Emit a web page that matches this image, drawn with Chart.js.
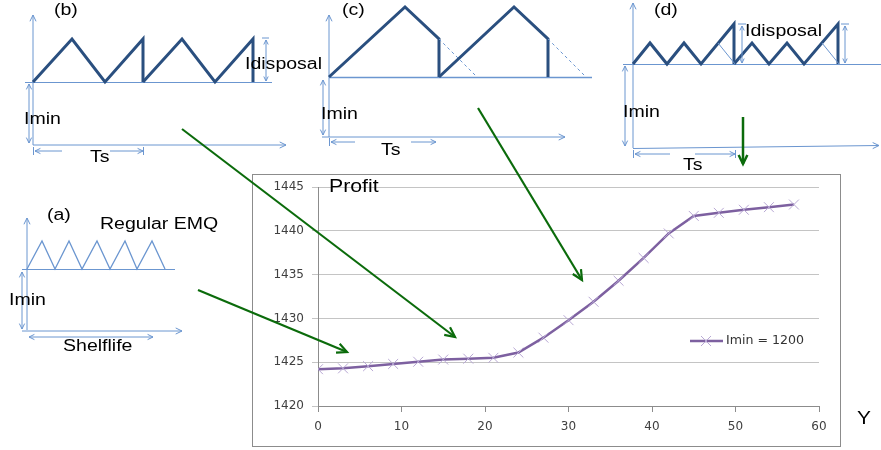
<!DOCTYPE html>
<html>
<head>
<meta charset="utf-8">
<script src="https://cdn.jsdelivr.net/npm/chart.js@4/dist/chart.umd.min.js"></script>
<style>
  body { margin: 0; background: #fff; }
  canvas { display: block; }
</style>
</head>
<body>
<canvas id="profit-chart" width="881" height="450"></canvas>
<script>
// chart data
const years = [0, 3, 6, 9, 12, 15, 18, 21, 24, 27, 30, 33, 36, 39, 42, 45, 48, 51, 54, 57];
const profit = [1424.2, 1424.3, 1424.55, 1424.8, 1425.05, 1425.3, 1425.4, 1425.5, 1426.1, 1427.8,
  1429.8, 1431.9, 1434.3, 1436.9, 1439.7, 1441.7, 1442.05, 1442.4, 1442.7, 1443.0];
const seriesLabel = "Imin = 1200";
const yRange = [1420, 1445];
const xRange = [0, 60];

const LINE = "#7d60a0";
const MARK = "#b8a8d4";
const AX = "#6b96d0";
const SAW = "#2a4f7f";
const GREEN = "#0b6b0b";
const STRETCH = 1.22;

function seg(ctx, pts, color, w, dash) {
  ctx.save();
  ctx.strokeStyle = color;
  ctx.lineWidth = w;
  ctx.lineJoin = "miter";
  ctx.setLineDash(dash || []);
  ctx.beginPath();
  ctx.moveTo(pts[0][0], pts[0][1]);
  for (let i = 1; i < pts.length; i++) ctx.lineTo(pts[i][0], pts[i][1]);
  ctx.stroke();
  ctx.restore();
}

// open V arrow head, tip at (x,y), pointing toward angle ang
function vee(ctx, x, y, ang, len, color, w) {
  const a1 = ang + Math.PI - 0.45, a2 = ang + Math.PI + 0.45;
  seg(ctx, [[x + len * Math.cos(a1), y + len * Math.sin(a1)], [x, y],
    [x + len * Math.cos(a2), y + len * Math.sin(a2)]], color, w);
}

function arrow(ctx, x1, y1, x2, y2, color, w, len, both) {
  seg(ctx, [[x1, y1], [x2, y2]], color, w);
  const ang = Math.atan2(y2 - y1, x2 - x1);
  vee(ctx, x2, y2, ang, len, color, w);
  if (both) vee(ctx, x1, y1, ang + Math.PI, len, color, w);
}

function txt(ctx, s, x, y, size, font, sx) {
  ctx.save();
  ctx.fillStyle = "#000";
  ctx.font = size + "px " + (font || "'Liberation Sans', Arial");
  ctx.textBaseline = "middle";
  ctx.textAlign = "left";
  ctx.translate(x, y);
  ctx.scale(sx || STRETCH, 1);
  ctx.fillText(s, 0, 0);
  ctx.restore();
}

function panelB(ctx) {
  txt(ctx, "(b)", 54, 11, 16);
  arrow(ctx, 33, 145, 33, 15, AX, 1, 7);
  seg(ctx, [[25, 82.5], [272, 82.5]], AX, 1);
  arrow(ctx, 33, 145, 286, 145, AX, 1, 7);
  arrow(ctx, 29, 84, 29, 143, AX, 1, 6, true);
  txt(ctx, "Imin", 24, 120, 16);
  seg(ctx, [[33, 82], [72, 39], [105, 82], [143, 39], [143, 82]], SAW, 3);
  seg(ctx, [[143, 82], [182, 39], [215, 82], [253, 39], [253, 82]], SAW, 3);
  seg(ctx, [[262, 38], [269, 38]], AX, 1);
  arrow(ctx, 266, 40, 266, 81, AX, 1, 5, true);
  txt(ctx, "Idisposal", 245, 65, 16);
  arrow(ctx, 62, 151, 35, 151, AX, 1, 6);
  arrow(ctx, 110, 151, 143, 151, AX, 1, 6);
  seg(ctx, [[33.5, 147], [33.5, 155]], AX, 1);
  seg(ctx, [[143.5, 147], [143.5, 155]], AX, 1);
  txt(ctx, "Ts", 90, 158, 16);
}

function panelC(ctx) {
  txt(ctx, "(c)", 342, 11, 16);
  arrow(ctx, 329, 137, 329, 15, AX, 1, 7);
  seg(ctx, [[329, 77.5], [592, 77.5]], AX, 1.5);
  arrow(ctx, 322, 137, 565, 137, AX, 1, 7);
  arrow(ctx, 323, 80, 323, 135, AX, 1, 6, true);
  txt(ctx, "Imin", 321, 115, 16);
  seg(ctx, [[329, 77], [405, 7], [439, 39], [439, 77]], SAW, 3);
  seg(ctx, [[439, 77], [514, 7], [548, 39], [548, 77]], SAW, 3);
  seg(ctx, [[439, 39], [477, 77]], AX, 1, [3, 3]);
  seg(ctx, [[548, 39], [586, 77]], AX, 1, [3, 3]);
  arrow(ctx, 355, 142, 331, 142, AX, 1, 6);
  arrow(ctx, 411, 142, 436, 142, AX, 1, 6);
  seg(ctx, [[329.5, 138], [329.5, 146]], AX, 1);
  txt(ctx, "Ts", 381, 151, 16);
}

function panelD(ctx) {
  txt(ctx, "(d)", 654, 11, 16);
  arrow(ctx, 633, 148, 633, 3, AX, 1, 7);
  seg(ctx, [[623, 64.5], [881, 64.5]], AX, 1);
  arrow(ctx, 633, 148.5, 879, 145.5, AX, 1, 7);
  arrow(ctx, 625, 66, 625, 146, AX, 1, 6, true);
  txt(ctx, "Imin", 623, 113, 16);
  seg(ctx, [[633, 64], [650, 43], [667, 64], [684, 43], [701, 64], [734, 24], [734, 64]], SAW, 3);
  seg(ctx, [[734, 64], [752, 43], [769, 64], [787, 43], [804, 64], [838, 24], [838, 64]], SAW, 3);
  seg(ctx, [[718, 43], [735, 64]], AX, 1);
  seg(ctx, [[822, 43], [839, 64]], AX, 1);
  seg(ctx, [[738, 24], [746, 24]], AX, 1);
  arrow(ctx, 742, 26, 742, 63, AX, 1, 5, true);
  seg(ctx, [[841, 24], [849, 24]], AX, 1);
  arrow(ctx, 845, 26, 845, 63, AX, 1, 5, true);
  txt(ctx, "Idisposal", 745, 32, 16);
  arrow(ctx, 670, 154, 635, 154, AX, 1, 6);
  arrow(ctx, 695, 154, 735, 154, AX, 1, 6);
  seg(ctx, [[633.5, 150], [633.5, 158]], AX, 1);
  seg(ctx, [[735.5, 150], [735.5, 158]], AX, 1);
  txt(ctx, "Ts", 683, 166, 16);
}

function panelA(ctx) {
  txt(ctx, "(a)", 47, 216, 16);
  arrow(ctx, 27, 330, 27, 218, AX, 1, 7);
  seg(ctx, [[22, 269.5], [175, 269.5]], AX, 1);
  arrow(ctx, 22, 331, 182, 331, AX, 1, 7);
  arrow(ctx, 22, 272, 22, 329, AX, 1, 6, true);
  txt(ctx, "Imin", 9, 301, 16);
  seg(ctx, [[27, 269], [42, 241], [55, 269], [69, 241], [82, 269], [97, 241], [110, 269],
    [125, 241], [137, 269], [152, 241], [165, 269]], AX, 1.3);
  txt(ctx, "Regular EMQ", 100, 225, 16);
  arrow(ctx, 29, 337, 153, 337, AX, 1, 6, true);
  txt(ctx, "Shelflife", 63, 347, 16);
}

const decor = {
  id: "decor",
  beforeDraw(chart) {
    const ctx = chart.ctx;
    ctx.save();
    ctx.fillStyle = "#fff";
    ctx.fillRect(0, 0, chart.width, chart.height);
    ctx.strokeStyle = "#8c8c8c";
    ctx.lineWidth = 1;
    ctx.strokeRect(252.5, 174.5, 588, 272);
    ctx.restore();
    panelA(ctx);
    panelB(ctx);
    panelC(ctx);
    panelD(ctx);
  },
  afterDraw(chart) {
    const ctx = chart.ctx;
    txt(ctx, "Profit", 329, 187, 18, "'Liberation Sans', Arial", 1.18);
    txt(ctx, "Y", 857, 419, 19, "'Liberation Sans', Arial", 1.1);
    // legend
    const ds = chart.data.datasets[0];
    seg(ctx, [[690, 341], [723, 341]], ds.borderColor, 2.5);
    seg(ctx, [[701, 336], [711, 346]], ds.pointBorderColor, 1);
    seg(ctx, [[701, 346], [711, 336]], ds.pointBorderColor, 1);
    ctx.save();
    ctx.fillStyle = "#333";
    ctx.font = "12px 'DejaVu Sans'";
    ctx.textBaseline = "middle";
    ctx.translate(726, 341);
    ctx.scale(1.05, 1);
    ctx.fillText(ds.label, 0, 0);
    ctx.restore();
    // green pointers
    arrow(ctx, 182, 129, 455, 337, GREEN, 2.2, 11);
    arrow(ctx, 478, 108, 582, 280, GREEN, 2.2, 11);
    arrow(ctx, 198, 290, 347, 352, GREEN, 2.2, 11);
    arrow(ctx, 743, 117, 743, 164, GREEN, 2.5, 10);
  }
};

const tickFont = { family: "DejaVu Sans", size: 12 };

new Chart("profit-chart", {
  type: "line",
  data: {
    datasets: [{
      label: seriesLabel,
      data: years.map((x, i) => ({ x: x, y: profit[i] })),
      borderColor: LINE,
      borderWidth: 2.5,
      pointStyle: "crossRot",
      pointRadius: 7,
      pointBorderColor: MARK,
      pointBorderWidth: 1,
      pointBackgroundColor: MARK,
      tension: 0
    }]
  },
  options: {
    responsive: false,
    animation: false,
    layout: { padding: { left: 268, right: 62, top: 187, bottom: 14 } },
    plugins: { legend: { display: false }, tooltip: { enabled: false } },
    scales: {
      x: {
        type: "linear",
        min: xRange[0],
        max: xRange[1],
        afterFit(scale) { scale.height = 30; },
        ticks: { stepSize: 10, padding: 8, color: "#404040", font: tickFont, callback: v => String(v) },
        grid: { drawOnChartArea: false, tickLength: 6, color: "#8c8c8c" },
        border: { color: "#8c8c8c" }
      },
      y: {
        min: yRange[0],
        max: yRange[1],
        afterFit(scale) { scale.width = 50; },
        ticks: { stepSize: 5, padding: 8, color: "#404040", font: tickFont, callback: v => String(v) },
        grid: { tickLength: 6, color: "#c4c4c4" },
        border: { color: "#8c8c8c" }
      }
    }
  },
  plugins: [decor]
});
</script>
</body>
</html>
